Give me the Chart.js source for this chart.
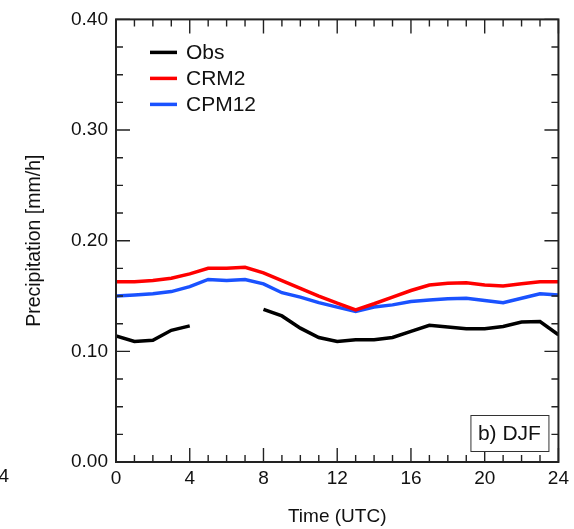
<!DOCTYPE html>
<html>
<head>
<meta charset="utf-8">
<script src="https://cdn.jsdelivr.net/npm/chart.js@4.4.0/dist/chart.umd.min.js"></script>
<style>
    html, body { margin: 0; padding: 0; background: #fff; }
    canvas { display: block; }
</style>
</head>
<body>
<canvas id="djfChart" width="574" height="529"></canvas>
<script>
// hourly diurnal cycle, DJF
const hours = [0, 1, 2, 3, 4, 5, 6, 7, 8, 9, 10, 11, 12, 13, 14, 15, 16, 17, 18, 19, 20, 21, 22, 23, 24];
const obs = [0.114, 0.109, 0.110, 0.119, 0.123, null, null, null, 0.138, 0.132, 0.121, 0.1125, 0.109,
    0.1105, 0.1105, 0.1125, 0.118, 0.1235, 0.122, 0.1205, 0.1205, 0.1225, 0.1265, 0.127, 0.115];
const crm2 = [0.163, 0.163, 0.164, 0.166, 0.170, 0.175, 0.175, 0.176, 0.171, 0.164, 0.157, 0.150, 0.1435,
    0.1375, 0.143, 0.149, 0.155, 0.160, 0.1615, 0.162, 0.160, 0.159, 0.161, 0.163, 0.163];
const cpm12 = [0.150, 0.151, 0.152, 0.154, 0.1585, 0.165, 0.164, 0.165, 0.161, 0.153, 0.149, 0.144, 0.140,
    0.136, 0.140, 0.142, 0.145, 0.1465, 0.1475, 0.148, 0.146, 0.144, 0.148, 0.152, 0.151];

const xTicks = [0, 4, 8, 12, 16, 20, 24];
const yTicks = [0.0, 0.1, 0.2, 0.3, 0.4];
const panelLabel = "b) DJF";

const FONT = "'Liberation Sans', Arial, Helvetica, sans-serif";
const INK = "#111";

function toPoints(values) {
    return hours.map(function (h, i) {
        return { x: h, y: values[i] };
    });
}

// frame with inward major/minor ticks on all four sides
const frameTicks = {
    id: "frameTicks",
    afterDraw: function (chart) {
        const ctx = chart.ctx;
        const a = chart.chartArea;
        const xs = chart.scales.x;
        const ys = chart.scales.y;
        const major = 14;
        const minor = 7;

        ctx.save();
        ctx.strokeStyle = "#222";
        ctx.lineWidth = 1.4;
        ctx.beginPath();

        for (let i = 0; i < xTicks.length; i++) {
            const px = xs.getPixelForValue(xTicks[i]);
            ctx.moveTo(px, a.bottom); ctx.lineTo(px, a.bottom - major);
            ctx.moveTo(px, a.top); ctx.lineTo(px, a.top + major);
            if (i < xTicks.length - 1) {
                const step = (xTicks[i + 1] - xTicks[i]) / 4;
                for (let k = 1; k < 4; k++) {
                    const mx = xs.getPixelForValue(xTicks[i] + k * step);
                    ctx.moveTo(mx, a.bottom); ctx.lineTo(mx, a.bottom - minor);
                    ctx.moveTo(mx, a.top); ctx.lineTo(mx, a.top + minor);
                }
            }
        }

        for (let i = 0; i < yTicks.length; i++) {
            const py = ys.getPixelForValue(yTicks[i]);
            ctx.moveTo(a.left, py); ctx.lineTo(a.left + major, py);
            ctx.moveTo(a.right, py); ctx.lineTo(a.right - major, py);
            if (i < yTicks.length - 1) {
                const step = (yTicks[i + 1] - yTicks[i]) / 4;
                for (let k = 1; k < 4; k++) {
                    const my = ys.getPixelForValue(yTicks[i] + k * step);
                    ctx.moveTo(a.left, my); ctx.lineTo(a.left + minor, my);
                    ctx.moveTo(a.right, my); ctx.lineTo(a.right - minor, my);
                }
            }
        }
        ctx.stroke();

        ctx.lineWidth = 2;
        ctx.strokeRect(a.left, a.top, a.right - a.left, a.bottom - a.top);
        ctx.restore();
    },
};

// legend lines in the upper left corner of the plot
const cornerLegend = {
    id: "cornerLegend",
    afterDraw: function (chart) {
        const ctx = chart.ctx;
        const a = chart.chartArea;
        ctx.save();
        ctx.font = "21px " + FONT;
        ctx.textBaseline = "middle";
        ctx.fillStyle = INK;
        chart.data.datasets.forEach(function (ds, i) {
            const y = a.top + 33 + i * 26;
            ctx.strokeStyle = ds.borderColor;
            ctx.lineWidth = 3.5;
            ctx.beginPath();
            ctx.moveTo(a.left + 34, y);
            ctx.lineTo(a.left + 61, y);
            ctx.stroke();
            ctx.fillText(ds.label, a.left + 70, y + 1);
        });
        ctx.restore();
    },
};

// boxed panel label and the stray tick label of the neighbouring panel
const panelTag = {
    id: "panelTag",
    afterDraw: function (chart) {
        const ctx = chart.ctx;
        const a = chart.chartArea;
        ctx.save();
        const bx = a.right - 88, by = a.bottom - 47, bw = 78, bh = 36;
        ctx.fillStyle = "#fff";
        ctx.fillRect(bx, by, bw, bh);
        ctx.strokeStyle = "#333";
        ctx.lineWidth = 1;
        ctx.strokeRect(bx + 0.5, by + 0.5, bw, bh);
        ctx.fillStyle = INK;
        ctx.font = "21px " + FONT;
        ctx.textAlign = "center";
        ctx.textBaseline = "middle";
        ctx.fillText(panelLabel, bx + bw / 2, by + bh / 2 + 1);

        ctx.font = "19px " + FONT;
        ctx.textAlign = "right";
        ctx.fillText("4", 9, 477);
        ctx.restore();
    },
};

const ctx = document.getElementById("djfChart").getContext("2d");

new Chart(ctx, {
    type: "line",
    data: {
        datasets: [
            {
                label: "Obs",
                data: toPoints(obs),
                borderColor: "#000000",
                backgroundColor: "#000000",
                borderWidth: 3.5,
                pointRadius: 0,
                tension: 0,
                spanGaps: false,
            },
            {
                label: "CRM2",
                data: toPoints(crm2),
                borderColor: "#ff0000",
                backgroundColor: "#ff0000",
                borderWidth: 3.5,
                pointRadius: 0,
                tension: 0,
            },
            {
                label: "CPM12",
                data: toPoints(cpm12),
                borderColor: "#1a52ff",
                backgroundColor: "#1a52ff",
                borderWidth: 3.5,
                pointRadius: 0,
                tension: 0,
            },
        ],
    },
    options: {
        responsive: false,
        animation: false,
        layout: {
            padding: { top: 19, right: 15, left: 0, bottom: 0 },
        },
        plugins: {
            legend: { display: false },
            tooltip: { enabled: false },
        },
        scales: {
            x: {
                type: "linear",
                min: 0,
                max: 24,
                afterBuildTicks: function (scale) {
                    scale.ticks = xTicks.map(function (v) { return { value: v }; });
                },
                afterFit: function (scale) {
                    scale.height = 67;
                },
                grid: { display: false, drawTicks: false },
                border: { display: false },
                ticks: {
                    color: INK,
                    font: { family: FONT, size: 19 },
                    padding: 5,
                    maxRotation: 0,
                },
                title: {
                    display: true,
                    text: "Time (UTC)",
                    color: INK,
                    font: { family: FONT, size: 19, lineHeight: 1.2 },
                    padding: { top: 0, bottom: 1 },
                },
            },
            y: {
                type: "linear",
                min: 0,
                max: 0.4,
                afterBuildTicks: function (scale) {
                    scale.ticks = yTicks.map(function (v) { return { value: v }; });
                },
                afterFit: function (scale) {
                    scale.width = 116;
                },
                grid: { display: false, drawTicks: false },
                border: { display: false },
                ticks: {
                    color: INK,
                    font: { family: FONT, size: 19 },
                    padding: 8,
                    callback: function (value) {
                        return Number(value).toFixed(2);
                    },
                },
                title: {
                    display: true,
                    text: "Precipitation [mm/h]",
                    color: INK,
                    font: { family: FONT, size: 19.5, lineHeight: 1.2 },
                    padding: { top: 23, bottom: 0 },
                },
            },
        },
    },
    plugins: [frameTicks, cornerLegend, panelTag],
});
</script>
</body>
</html>
